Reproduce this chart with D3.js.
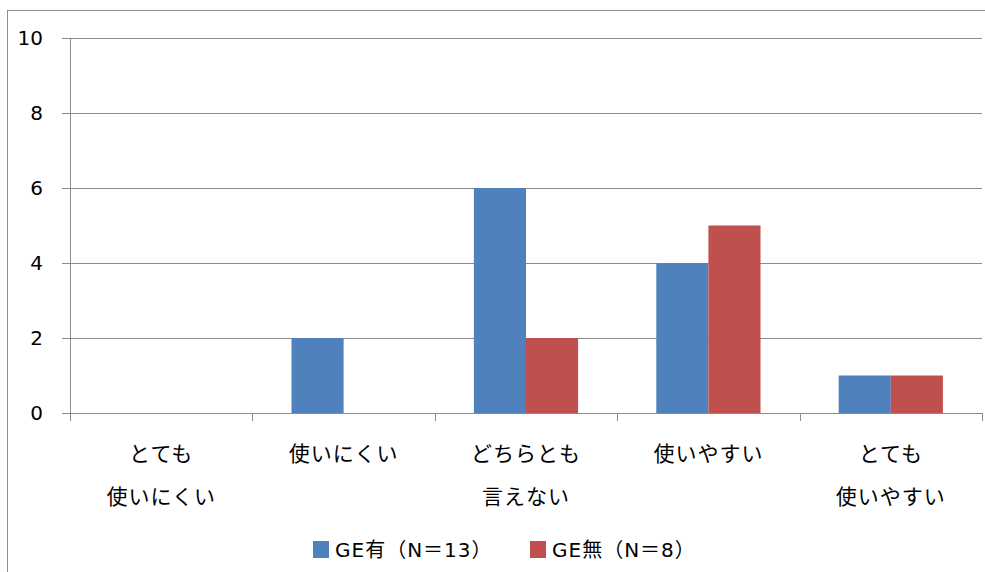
<!DOCTYPE html>
<html>
<head>
<meta charset="utf-8">
<script src="https://cdn.jsdelivr.net/npm/d3@7"></script>
<style>
  body { margin: 0; background: #fff; }
  svg text { font-family: "DejaVu Sans", Verdana, "Noto Sans CJK JP", sans-serif; fill: #000; }
</style>
</head>
<body>
<div id="chart"></div>
<script>
// categories (two lines each) and series values
const categories = [
    ["とても", "使いにくい"],
    ["使いにくい"],
    ["どちらとも", "言えない"],
    ["使いやすい"],
    ["とても", "使いやすい"]
];
const seriesNames = ["GE有（N＝13）", "GE無（N＝8）"];
const geYes = [0, 2, 6, 4, 1];
const geNo = [0, 0, 2, 5, 1];
const yTicks = [0, 2, 4, 6, 8, 10];

const colors = ["#4F81BD", "#C0504D"];

const width = 985, height = 572;
const margin = { top: 38, right: 3, bottom: 159, left: 70 };

const svg = d3.select("#chart")
    .append("svg")
    .attr("width", width)
    .attr("height", height);

// outer chart frame (clipped at right/bottom like the source)
svg.append("rect")
    .attr("x", 7.5).attr("y", 10.5)
    .attr("width", 1000).attr("height", 600)
    .attr("fill", "none")
    .attr("stroke", "#8c8c8c");

const x0 = d3.scaleBand()
    .domain(d3.range(categories.length))
    .range([margin.left, width - margin.right])
    .paddingInner(0).paddingOuter(0);

const x1 = d3.scaleBand()
    .domain([0, 1])
    .range([0, x0.bandwidth()])
    .paddingOuter(0.75).paddingInner(0);

const y = d3.scaleLinear()
    .domain([0, 10])
    .range([height - margin.bottom, margin.top]);

// gridlines
svg.append("g")
    .selectAll("line")
    .data(yTicks)
    .join("line")
    .attr("x1", margin.left - 8)
    .attr("x2", width - margin.right)
    .attr("y1", d => Math.round(y(d)) + 0.5)
    .attr("y2", d => Math.round(y(d)) + 0.5)
    .attr("stroke", "#8c8c8c")
    .attr("stroke-width", 1.2);

// y axis line
svg.append("line")
    .attr("x1", margin.left + 0.5).attr("x2", margin.left + 0.5)
    .attr("y1", y(10)).attr("y2", y(0))
    .attr("stroke", "#8c8c8c");

// y labels
svg.append("g")
    .selectAll("text")
    .data(yTicks)
    .join("text")
    .attr("x", 43)
    .attr("y", d => y(d))
    .attr("dy", "0.36em")
    .attr("text-anchor", "end")
    .style("font-size", "20px")
    .text(d => d);

// category ticks
const tickXs = d3.range(categories.length + 1).map(i =>
    i < categories.length ? x0(i) : x0(i - 1) + x0.bandwidth());
svg.append("g")
    .selectAll("line")
    .data(tickXs)
    .join("line")
    .attr("x1", d => Math.round(d) + 0.5)
    .attr("x2", d => Math.round(d) + 0.5)
    .attr("y1", y(0))
    .attr("y2", y(0) + 8)
    .attr("stroke", "#8c8c8c");

// bars
const data = categories.map((c, i) => [geYes[i], geNo[i]]);
svg.append("g")
    .selectAll("g")
    .data(data)
    .join("g")
    .attr("transform", (d, i) => `translate(${x0(i)},0)`)
    .selectAll("rect")
    .data(d => d.map((v, s) => ({ v, s })))
    .join("rect")
    .attr("x", d => x1(d.s))
    .attr("width", x1.bandwidth())
    .attr("y", d => y(d.v))
    .attr("height", d => y(0) - y(d.v))
    .attr("fill", d => colors[d.s]);

// category labels
const catG = svg.append("g");
categories.forEach((lines, i) => {
    lines.forEach((t, j) => {
        catG.append("text")
            .attr("x", x0(i) + x0.bandwidth() / 2)
            .attr("y", 461 + j * 43)
            .attr("text-anchor", "middle")
            .style("font-size", "21px")
            .style("letter-spacing", "1px")
            .style("font-family", "'Noto Sans CJK JP', sans-serif")
            .text(t);
    });
});

// legend
const legendX = [313, 530];
const legend = svg.append("g");
seriesNames.forEach((name, i) => {
    legend.append("rect")
        .attr("x", legendX[i]).attr("y", 541)
        .attr("width", 16).attr("height", 17)
        .attr("fill", colors[i]);
    legend.append("text")
        .attr("x", legendX[i] + 22)
        .attr("y", 557)
        .style("font-size", "20px")
        .style("letter-spacing", "1px")
        .text(name);
});
</script>
</body>
</html>
